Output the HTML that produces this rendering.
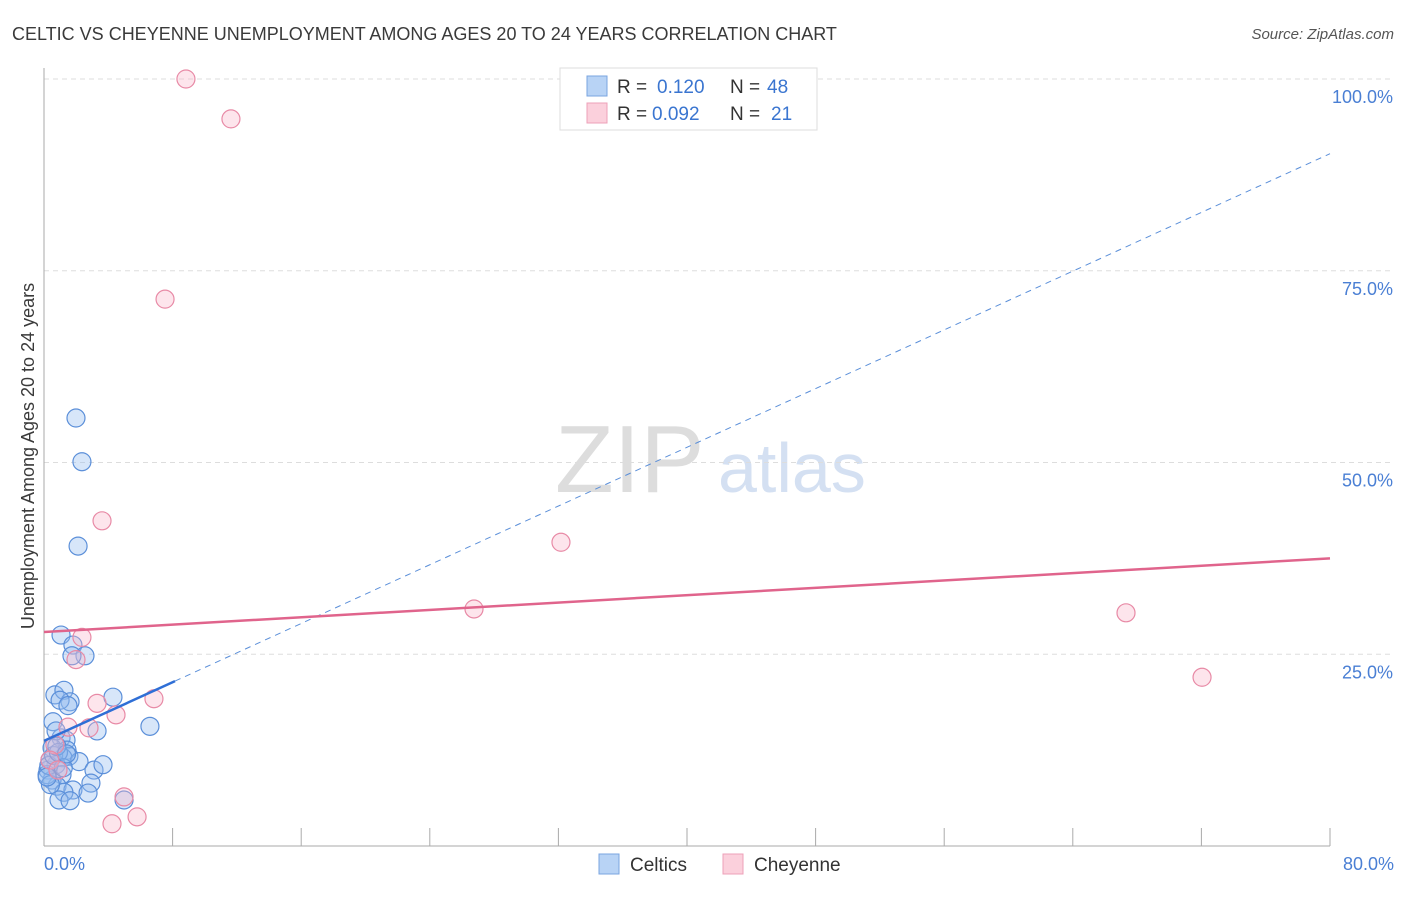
<!DOCTYPE html>
<html><head><meta charset="utf-8"><style>
body{margin:0;background:#fff;font-family:"Liberation Sans",sans-serif}
svg text{font-family:"Liberation Sans",sans-serif}
</style></head><body>
<svg width="1406" height="892">
<text x="12" y="40" font-size="18" fill="#3a3a3a">CELTIC VS CHEYENNE UNEMPLOYMENT AMONG AGES 20 TO 24 YEARS CORRELATION CHART</text>
<text x="1394" y="39" font-size="15" fill="#555" font-style="italic" text-anchor="end">Source: ZipAtlas.com</text>
<text x="555" y="492" font-size="96" fill="#ddd" font-family="Liberation Serif">ZIP</text>
<text x="718" y="492" font-size="70" fill="#d4e0f2">atlas</text>
<g id="grid"></g><g id="axes"></g><g id="marks"></g>
<text transform="translate(34,456) rotate(-90)" font-size="18" fill="#3a3a3a" text-anchor="middle">Unemployment Among Ages 20 to 24 years</text>
<text x="44" y="870" font-size="18" fill="#4a7fd4">0.0%</text>
<text x="1394" y="870" font-size="18" fill="#4a7fd4" text-anchor="end">80.0%</text>
<g>
<rect x="560" y="68" width="257" height="62" fill="#fff" stroke="#ddd"/>
<rect x="587" y="76" width="20" height="20" fill="#b8d3f5" stroke="#7aa5e0"/>
<text x="617" y="93" font-size="19" fill="#333">R =</text>
<text x="657" y="93" font-size="19" fill="#3a75d0">0.120</text>
<text x="730" y="93" font-size="19" fill="#333">N =</text>
<text x="767" y="93" font-size="19" fill="#3a75d0">48</text>
<rect x="587" y="103" width="20" height="20" fill="#fbd0dc" stroke="#eea0b8"/>
<text x="617" y="120" font-size="19" fill="#333">R =</text>
<text x="652" y="120" font-size="19" fill="#3a75d0">0.092</text>
<text x="730" y="120" font-size="19" fill="#333">N =</text>
<text x="771" y="120" font-size="19" fill="#3a75d0">21</text>
</g>
<g>
<rect x="599" y="854" width="20" height="20" fill="#b8d3f5" stroke="#7aa5e0"/>
<text x="630" y="871" font-size="19" fill="#333">Celtics</text>
<rect x="723" y="854" width="20" height="20" fill="#fbd0dc" stroke="#eea0b8"/>
<text x="754" y="871" font-size="19" fill="#333">Cheyenne</text>
</g>
</svg>
<script>
const yTicks=[25,50,75,100];
const yTickLabels=["25.0%","50.0%","75.0%","100.0%"];
const xTicks=[0,8,16,24,32,40,48,56,64,72,80];
const celticX=[1.99,2.36,2.12,1.06,1.80,2.55,1.74,0.68,1.24,1.62,1.00,1.49,4.29,0.56,3.30,6.59,1.06,1.37,0.50,1.43,1.55,1.18,2.18,0.75,0.25,3.11,3.67,1.12,0.50,2.92,0.81,1.80,1.24,2.74,0.93,1.62,4.98,0.37,0.19,0.75,0.3,0.6,0.9,0.4,1.2,0.2,0.8,1.4];
const celticY=[55.8,50.1,39.1,27.5,26.2,24.8,24.8,19.7,20.3,18.8,19.0,18.3,19.4,16.2,15.0,15.6,14.1,13.8,12.8,12.5,11.7,11.5,11.0,10.6,9.9,9.9,10.6,9.3,8.6,8.2,7.8,7.3,7.0,6.9,6.0,5.9,6.0,11.2,9.3,15.0,10.5,11.8,12.2,8.0,10.2,9.0,13.0,12.0];
const cheyX=[8.83,11.63,7.53,3.61,32.16,26.75,67.31,72.04,2.36,1.99,6.84,3.30,4.48,1.49,2.80,0.68,0.37,0.87,4.98,5.79,4.23];
const cheyY=[100,94.8,71.3,42.4,39.6,30.9,30.4,22.0,27.2,24.3,19.2,18.6,17.1,15.5,15.4,13.2,11.2,9.9,6.4,3.8,2.9];
const celticTrend=[13.7,0.957];
const cheyTrend=[27.9,0.12];
const celticSolidEnd=8.15;
const NS="http://www.w3.org/2000/svg";
const X=v=>44+v/80*1286, Y=v=>846-v/100*767;
function mk(parent,tag,attrs){const e=document.createElementNS(NS,tag);for(const k in attrs)e.setAttribute(k,attrs[k]);document.getElementById(parent).appendChild(e);return e;}
yTicks.forEach((t,i)=>{
 const l=mk('grid','line',{x1:44,x2:1394,y1:Y(t),y2:Y(t),stroke:'#ddd','stroke-dasharray':'5,4'});
 
 
 const tx=mk('grid','text',{x:1393,y:Y(t)+24,'font-size':18,fill:'#4a7fd4','text-anchor':'end'});
 tx.textContent=yTickLabels[i];
 
 
});
const ax=mk('axes','line',{x1:44,x2:44,y1:68,y2:846,stroke:'#aaa'});


const bx=mk('axes','line',{x1:44,x2:1330,y1:846,y2:846,stroke:'#aaa'});


xTicks.slice(1).forEach(t=>{
 const l=mk('axes','line',{x1:X(t),x2:X(t),y1:828,y2:846,stroke:'#aaa'});
 
 
});
celticX.forEach((x,i)=>{
 const c=mk('marks','circle',{cx:X(x),cy:Y(celticY[i]),r:9,fill:'rgba(150,190,240,0.38)',stroke:'#5b8fd9','stroke-width':1.2});
 
 
});
cheyX.forEach((x,i)=>{
 const c=mk('marks','circle',{cx:X(x),cy:Y(cheyY[i]),r:9,fill:'rgba(248,180,200,0.35)',stroke:'#e88aa6','stroke-width':1.2});
 
 
});
const cf=x=>celticTrend[0]+celticTrend[1]*x, hf=x=>cheyTrend[0]+cheyTrend[1]*x;
const d=mk('marks','line',{x1:X(celticSolidEnd),y1:Y(cf(celticSolidEnd)),x2:X(80),y2:Y(cf(80)),stroke:'#5b8fd9','stroke-dasharray':'6,5','stroke-width':1});


const s=mk('marks','line',{x1:X(0),y1:Y(cf(0)),x2:X(celticSolidEnd),y2:Y(cf(celticSolidEnd)),stroke:'#2f6fd6','stroke-width':2.5});


const p=mk('marks','line',{x1:X(0),y1:Y(hf(0)),x2:X(80),y2:Y(hf(80)),stroke:'#e0648c','stroke-width':2.5});


</script>
</body></html>
